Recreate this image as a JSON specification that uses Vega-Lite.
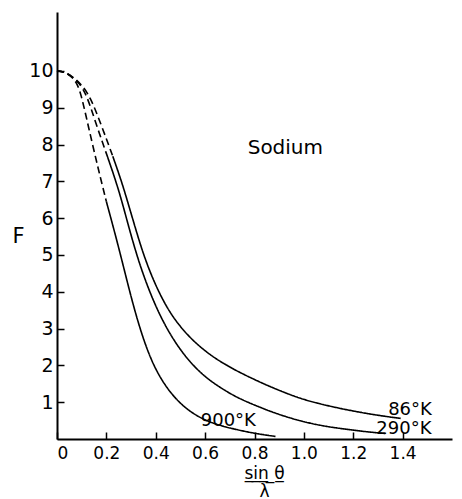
{
  "$schema": "https://vega.github.io/schema/vega-lite/v6.json",
  "width": 395,
  "height": 427,
  "autosize": {"type": "none"},
  "padding": {"left": 57, "top": 12, "right": 10, "bottom": 60},
  "background": "white",
  "config": {
    "view": {"stroke": null},
    "font": "DejaVu Sans",
    "axis": {
      "grid": false,
      "domainColor": "black",
      "domainWidth": 2,
      "tickColor": "black",
      "tickWidth": 1.5,
      "tickSize": -7,
      "labelColor": "black",
      "titleColor": "black",
      "labelFont": "DejaVu Sans",
      "titleFont": "DejaVu Sans",
      "titleFontWeight": "normal"
    }
  },
  "datasets": {
    "curves": [
      {"T": "86K", "seg": "dash", "x": 0, "F": 10},
      {"T": "86K", "seg": "dash", "x": 0.03, "F": 9.97},
      {"T": "86K", "seg": "dash", "x": 0.06, "F": 9.86},
      {"T": "86K", "seg": "dash", "x": 0.095, "F": 9.66},
      {"T": "86K", "seg": "dash", "x": 0.134, "F": 9.32},
      {"T": "86K", "seg": "dash", "x": 0.181, "F": 8.5},
      {"T": "86K", "seg": "dash", "x": 0.226, "F": 7.68},
      {"T": "86K", "seg": "solid", "x": 0.226, "F": 7.68},
      {"T": "86K", "seg": "solid", "x": 0.25, "F": 7.22},
      {"T": "86K", "seg": "solid", "x": 0.272, "F": 6.77},
      {"T": "86K", "seg": "solid", "x": 0.31, "F": 5.9},
      {"T": "86K", "seg": "solid", "x": 0.35, "F": 5.0},
      {"T": "86K", "seg": "solid", "x": 0.398, "F": 4.18},
      {"T": "86K", "seg": "solid", "x": 0.459, "F": 3.38},
      {"T": "86K", "seg": "solid", "x": 0.54, "F": 2.72},
      {"T": "86K", "seg": "solid", "x": 0.634, "F": 2.2},
      {"T": "86K", "seg": "solid", "x": 0.743, "F": 1.79},
      {"T": "86K", "seg": "solid", "x": 0.85, "F": 1.46},
      {"T": "86K", "seg": "solid", "x": 0.918, "F": 1.27},
      {"T": "86K", "seg": "solid", "x": 0.986, "F": 1.1},
      {"T": "86K", "seg": "solid", "x": 1.054, "F": 0.97},
      {"T": "86K", "seg": "solid", "x": 1.12, "F": 0.87},
      {"T": "86K", "seg": "solid", "x": 1.19, "F": 0.77},
      {"T": "86K", "seg": "solid", "x": 1.3, "F": 0.64},
      {"T": "86K", "seg": "solid", "x": 1.392, "F": 0.56},
      {"T": "290K", "seg": "dash", "x": 0, "F": 10},
      {"T": "290K", "seg": "dash", "x": 0.03, "F": 9.97},
      {"T": "290K", "seg": "dash", "x": 0.06, "F": 9.85},
      {"T": "290K", "seg": "dash", "x": 0.09, "F": 9.67},
      {"T": "290K", "seg": "dash", "x": 0.12, "F": 9.36},
      {"T": "290K", "seg": "dash", "x": 0.161, "F": 8.5},
      {"T": "290K", "seg": "dash", "x": 0.205, "F": 7.66},
      {"T": "290K", "seg": "solid", "x": 0.205, "F": 7.66},
      {"T": "290K", "seg": "solid", "x": 0.249, "F": 6.8},
      {"T": "290K", "seg": "solid", "x": 0.283, "F": 5.95},
      {"T": "290K", "seg": "solid", "x": 0.323, "F": 4.98},
      {"T": "290K", "seg": "solid", "x": 0.371, "F": 4.05},
      {"T": "290K", "seg": "solid", "x": 0.431, "F": 3.14},
      {"T": "290K", "seg": "solid", "x": 0.506, "F": 2.33},
      {"T": "290K", "seg": "solid", "x": 0.594, "F": 1.69},
      {"T": "290K", "seg": "solid", "x": 0.689, "F": 1.28},
      {"T": "290K", "seg": "solid", "x": 0.743, "F": 1.08},
      {"T": "290K", "seg": "solid", "x": 0.851, "F": 0.78},
      {"T": "290K", "seg": "solid", "x": 0.92, "F": 0.62},
      {"T": "290K", "seg": "solid", "x": 0.986, "F": 0.49},
      {"T": "290K", "seg": "solid", "x": 1.05, "F": 0.39},
      {"T": "290K", "seg": "solid", "x": 1.12, "F": 0.31},
      {"T": "290K", "seg": "solid", "x": 1.19, "F": 0.25},
      {"T": "290K", "seg": "solid", "x": 1.26, "F": 0.19},
      {"T": "290K", "seg": "solid", "x": 1.33, "F": 0.15},
      {"T": "900K", "seg": "dash", "x": 0, "F": 10},
      {"T": "900K", "seg": "dash", "x": 0.03, "F": 9.97},
      {"T": "900K", "seg": "dash", "x": 0.06, "F": 9.85},
      {"T": "900K", "seg": "dash", "x": 0.08, "F": 9.67},
      {"T": "900K", "seg": "dash", "x": 0.097, "F": 9.39},
      {"T": "900K", "seg": "dash", "x": 0.127, "F": 8.49},
      {"T": "900K", "seg": "dash", "x": 0.168, "F": 7.31},
      {"T": "900K", "seg": "dash", "x": 0.2, "F": 6.45},
      {"T": "900K", "seg": "solid", "x": 0.2, "F": 6.45},
      {"T": "900K", "seg": "solid", "x": 0.242, "F": 5.41},
      {"T": "900K", "seg": "solid", "x": 0.276, "F": 4.5},
      {"T": "900K", "seg": "solid", "x": 0.31, "F": 3.6},
      {"T": "900K", "seg": "solid", "x": 0.35, "F": 2.69},
      {"T": "900K", "seg": "solid", "x": 0.398, "F": 1.875},
      {"T": "900K", "seg": "solid", "x": 0.459, "F": 1.24},
      {"T": "900K", "seg": "solid", "x": 0.526, "F": 0.79},
      {"T": "900K", "seg": "solid", "x": 0.607, "F": 0.47},
      {"T": "900K", "seg": "solid", "x": 0.702, "F": 0.29},
      {"T": "900K", "seg": "solid", "x": 0.8, "F": 0.15},
      {"T": "900K", "seg": "solid", "x": 0.885, "F": 0.07}
    ],
    "labels": [
      {"text": "Sodium", "x": 0.925, "F": 7.9, "align": "center", "size": 20},
      {"text": "86°K", "x": 1.43, "F": 0.8, "align": "left", "size": 18},
      {"text": "290°K", "x": 1.405, "F": 0.26, "align": "left", "size": 18},
      {"text": "900°K", "x": 0.694, "F": 0.5, "align": "left", "size": 18}
    ]
  },
  "layer": [
    {
      "data": {"name": "curves"},
      "mark": {"type": "line", "color": "black", "strokeWidth": 1.6, "interpolate": "basis"},
      "encoding": {
        "x": {
          "field": "x", "type": "quantitative",
          "scale": {"domain": [0, 1.6], "nice": false, "zero": false},
          "axis": {
            "values": [0, 0.2, 0.4, 0.6, 0.8, 1.0, 1.2, 1.4],
            "labelExpr": "datum.value == 0 ? '0' : format(datum.value, '.1f')",
            "labelFontSize": 17,
            "labelPadding": 13,
            "labelBaseline": "top",
            "title": ["s\u0332i\u0332n\u0332 \u0332θ\u0332", "λ"],
            "titleFontSize": 17,
            "titleX": 207,
            "titleY": 39,
            "titleAlign": "center",
            "titleBaseline": "alphabetic",
            "titleLineHeight": 18
          }
        },
        "y": {
          "field": "F", "type": "quantitative",
          "scale": {"domain": [0, 11.6], "nice": false, "zero": false},
          "axis": {
            "values": [1, 2, 3, 4, 5, 6, 7, 8, 9, 10],
            "labelFontSize": 19,
            "labelPadding": 11,
            "title": "F",
            "titleAngle": 0,
            "titleFontSize": 21,
            "titleX": -39,
            "titleY": 224,
            "titleAlign": "center",
            "titleBaseline": "middle"
          }
        },
        "detail": {"field": "T"},
        "strokeDash": {
          "field": "seg", "type": "nominal",
          "scale": {"domain": ["dash", "solid"], "range": [[7, 4], [1, 0]]},
          "legend": null
        }
      }
    },
    {
      "data": {"name": "labels"},
      "mark": {"type": "text", "color": "black", "baseline": "middle", "font": "DejaVu Sans"},
      "encoding": {
        "x": {"field": "x", "type": "quantitative"},
        "y": {"field": "F", "type": "quantitative"},
        "text": {"field": "text"},
        "align": {"field": "align", "type": "nominal", "scale": null},
        "size": {"field": "size", "type": "quantitative", "scale": null}
      }
    }
  ]
}
